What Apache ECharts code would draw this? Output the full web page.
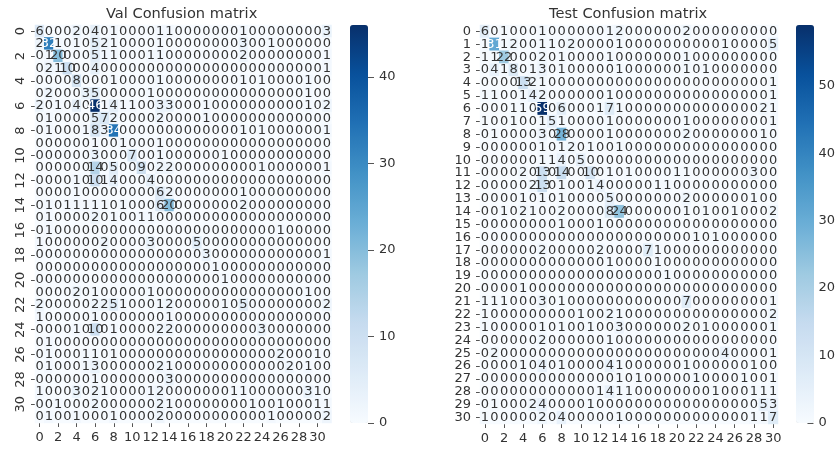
<!DOCTYPE html>
<html>
<head>
<meta charset="utf-8">
<script src="https://cdn.jsdelivr.net/npm/echarts@6/dist/echarts.min.js"></script>
<style>html,body{margin:0;padding:0;background:#fff}#c{width:838px;height:450px}</style>
</head>
<body>
<div id="c"></div>
<script>
var valTitle = 'Val Confusion matrix';
var testTitle = 'Test Confusion matrix';
var blues = ['#f7fbff','#deebf7','#c6dbef','#9ecae1','#6baed6','#4292c6','#2171b5','#08519c','#08306b'];
var valBarTicks = [0,10,20,30,40];
var testBarTicks = [0,10,20,30,40,50];
var valMatrix = [
[6,0,0,0,2,0,4,0,1,0,0,0,0,1,1,0,0,0,0,0,0,0,1,0,0,0,0,0,0,0,0,3],
[2,32,1,0,1,0,5,2,1,0,0,0,0,1,0,0,0,0,0,0,0,0,3,0,0,1,0,0,0,0,0,0],
[0,1,20,0,0,0,5,1,1,0,0,0,1,1,0,0,0,0,0,0,0,0,2,0,0,0,0,0,0,0,0,1],
[0,2,1,10,0,0,4,0,0,0,0,0,0,0,0,0,0,0,0,0,0,0,0,0,0,0,0,0,0,0,0,1],
[0,0,0,0,8,0,0,0,1,0,0,0,0,1,0,0,0,0,0,0,0,0,1,0,1,0,0,0,0,1,0,0],
[0,2,0,0,0,3,5,0,0,0,0,0,1,0,0,0,0,0,0,0,0,0,0,0,0,0,0,0,0,1,0,0],
[2,0,1,0,4,0,46,1,4,1,1,0,0,3,3,0,0,0,1,0,0,0,0,0,0,0,0,0,0,1,0,2],
[0,1,0,0,0,0,5,7,2,0,0,0,0,2,0,0,0,0,1,0,0,0,0,0,0,0,0,0,0,0,0,0],
[0,1,0,0,0,1,8,3,34,0,0,0,0,0,0,0,0,0,0,0,0,0,1,0,1,0,0,0,0,0,0,1],
[0,0,0,0,0,0,1,0,0,1,0,0,0,1,0,0,0,0,0,0,0,0,0,0,0,0,0,0,0,0,0,0],
[0,0,0,0,0,0,3,0,0,0,7,0,0,1,0,0,0,0,0,0,1,0,0,0,0,0,0,0,0,0,0,0],
[0,0,0,0,0,0,14,0,5,0,0,9,0,2,2,0,0,0,0,0,0,0,0,0,1,0,0,0,0,0,0,1],
[0,0,0,0,1,0,10,1,4,0,0,0,4,0,0,0,0,0,0,0,0,0,0,0,0,0,0,0,0,0,0,0],
[0,0,0,0,1,0,0,0,0,0,0,0,0,6,2,0,0,0,0,0,0,0,1,0,0,0,0,0,0,0,0,0],
[0,1,0,1,1,1,1,1,0,1,0,0,0,6,20,0,0,0,0,0,0,0,2,0,0,0,0,0,0,0,0,0],
[0,1,0,0,0,0,2,0,1,0,0,1,1,0,0,0,0,0,0,0,0,0,0,0,0,0,0,0,0,0,0,0],
[0,1,0,0,0,0,0,0,0,0,0,0,0,0,0,0,0,0,0,0,0,0,0,0,0,0,1,0,0,0,0,0],
[1,0,0,0,0,0,0,2,0,0,0,0,3,0,0,0,0,5,0,0,0,0,0,0,0,0,0,0,0,0,0,0],
[0,0,0,0,0,0,0,0,0,0,0,0,0,0,0,0,0,0,3,0,0,0,0,0,0,0,0,0,0,0,0,1],
[0,0,0,0,0,0,0,0,0,0,0,0,0,0,0,0,0,0,0,1,0,0,0,0,0,0,0,0,0,0,0,0],
[0,0,0,0,0,0,0,0,0,0,0,0,0,0,0,0,0,0,0,0,1,0,0,0,0,0,0,0,0,0,0,0],
[0,0,0,0,2,0,1,0,0,0,0,0,1,0,0,0,0,0,0,0,0,0,0,0,0,0,0,0,0,1,0,0],
[2,0,0,0,0,0,2,2,5,1,0,0,0,1,2,0,0,0,0,0,1,0,5,0,0,0,0,0,0,0,0,2],
[1,0,0,0,0,0,1,0,0,0,0,0,0,0,1,0,0,0,0,0,0,0,0,0,0,0,0,0,0,0,0,0],
[0,0,0,0,1,0,10,0,1,0,0,0,0,2,2,0,0,0,0,0,0,0,0,0,3,0,0,0,0,0,0,0],
[0,1,0,0,0,0,0,0,0,0,0,0,0,0,0,0,0,0,0,0,0,0,0,0,0,0,0,0,0,0,0,0],
[0,1,0,0,0,1,1,0,1,0,0,0,0,0,0,0,0,0,0,0,0,0,0,0,0,0,2,0,0,0,1,0],
[0,1,0,0,0,1,3,0,0,0,0,0,0,2,1,0,0,0,0,0,0,0,0,0,0,0,0,2,0,1,0,0],
[0,0,0,0,0,0,1,0,0,0,0,0,0,0,3,0,0,0,0,0,0,0,0,0,0,0,0,0,0,0,0,0],
[1,0,0,0,3,0,2,1,0,0,0,0,1,2,0,0,0,0,0,0,0,1,1,0,0,0,0,0,0,3,1,0],
[0,0,1,0,0,0,2,0,0,0,0,0,0,2,1,0,0,0,0,0,0,0,0,1,0,0,1,0,0,0,1,1],
[0,1,0,0,1,0,0,0,1,0,0,0,0,2,0,0,0,0,0,0,0,0,0,0,0,1,0,0,0,0,0,2]
];
var testMatrix = [
[6,0,1,0,0,0,1,0,0,0,0,0,0,1,2,0,0,0,0,0,0,2,0,0,0,0,0,0,0,0,0],
[1,31,1,2,0,0,1,1,0,2,0,0,0,0,1,0,0,0,0,0,0,0,0,0,0,1,0,0,0,0,5],
[1,1,22,0,0,0,2,0,1,0,0,0,0,1,0,0,0,0,0,0,0,1,0,0,0,0,0,0,0,0,0],
[0,4,1,8,0,1,3,0,1,0,0,0,0,0,1,0,0,0,0,0,0,1,0,1,0,0,0,0,0,0,0],
[0,0,0,0,13,2,1,0,0,0,0,0,0,0,0,0,0,0,0,0,0,0,0,0,0,0,0,0,0,0,1],
[1,1,0,0,1,4,2,0,0,0,0,0,0,1,0,0,0,0,0,0,0,0,0,0,0,0,0,0,0,0,1],
[0,0,0,1,1,0,59,0,6,0,0,0,1,7,1,0,0,0,0,0,0,0,0,0,0,0,0,0,0,2,1],
[1,0,0,1,0,0,1,5,1,0,0,0,0,1,0,0,0,0,0,0,0,1,0,0,0,0,0,0,0,0,1],
[0,1,0,0,0,0,3,0,28,0,0,0,0,1,0,0,0,0,0,0,0,2,0,0,0,0,0,0,0,1,0],
[0,0,0,0,0,0,1,0,1,2,0,1,0,0,1,0,0,0,0,0,0,0,0,0,0,0,0,0,0,0,0],
[0,0,0,0,0,0,1,1,4,0,5,0,0,0,0,0,0,0,0,0,0,0,0,0,0,0,0,0,0,0,0],
[0,0,0,0,2,0,13,0,14,0,0,10,0,1,0,1,0,0,0,0,1,1,0,0,0,0,0,0,3,0,0],
[0,0,0,0,0,2,13,0,1,0,0,1,4,0,0,0,0,0,1,1,0,0,0,0,0,0,0,0,0,0,0],
[0,0,0,0,1,0,1,0,1,0,0,0,0,5,0,0,0,0,0,0,0,2,0,0,0,0,0,0,1,0,0],
[0,0,1,0,2,1,0,0,2,0,0,0,0,8,24,0,0,0,0,0,0,1,0,1,0,0,1,0,0,0,2],
[0,0,0,0,0,0,0,0,1,0,0,0,1,0,0,0,0,0,0,0,0,0,0,0,0,0,0,0,0,0,0],
[0,0,0,0,0,0,0,0,0,0,0,0,0,0,0,0,0,0,0,0,0,0,1,0,1,0,0,0,0,0,0],
[0,0,0,0,0,0,2,0,0,0,0,0,2,0,0,0,0,7,1,0,0,0,0,0,0,0,0,0,0,0,0],
[0,0,0,0,0,0,0,0,0,0,0,0,0,1,0,0,0,0,1,0,0,0,0,0,0,0,0,0,0,0,0],
[0,0,0,0,0,0,0,0,0,0,0,0,0,0,0,0,0,0,0,1,0,0,0,0,0,0,0,0,0,0,0],
[0,0,0,0,1,0,0,0,0,0,0,0,0,0,0,0,0,0,0,0,0,0,0,0,0,0,0,0,0,0,0],
[1,1,1,0,0,0,3,0,1,0,0,0,0,0,0,0,0,0,0,0,0,7,0,0,0,0,0,0,0,0,1],
[1,0,0,0,0,0,0,0,0,0,1,0,0,2,1,0,0,0,0,0,0,0,0,0,0,0,0,0,0,0,2],
[1,0,0,0,0,0,1,0,1,0,0,1,0,0,3,0,0,0,0,0,0,2,0,1,0,0,0,0,0,0,1],
[0,0,0,0,0,0,2,0,0,0,0,0,0,1,0,0,0,0,0,0,0,0,0,0,0,0,0,0,0,0,0],
[0,2,0,0,0,0,0,0,0,0,0,0,0,0,0,0,0,0,0,0,0,0,0,0,0,4,0,0,0,0,1],
[0,0,0,0,1,0,4,0,1,0,0,0,0,4,1,0,0,0,0,0,0,1,0,0,0,0,0,0,1,0,0],
[0,0,0,0,0,0,0,0,0,0,0,0,0,0,1,0,1,0,0,0,0,0,1,0,0,0,0,1,0,0,1],
[0,0,0,0,0,0,0,0,0,0,0,0,1,4,1,1,0,0,0,0,0,0,0,0,1,0,0,0,1,1,1],
[0,1,0,0,0,2,4,0,0,0,0,1,0,0,0,0,0,0,0,0,0,0,0,0,0,0,0,0,0,5,3],
[1,0,0,0,0,0,2,0,4,0,0,0,0,0,1,0,0,0,0,0,0,0,0,0,0,0,0,0,1,1,7]
];

var INK = '#333333', FONT = '"DejaVu Sans", sans-serif';

function cells(matrix, top) {
  var out = [];
  matrix.forEach(function (row, y) {
    row.forEach(function (v, x) {
      out.push({ value: [x, y, v], label: { color: v / top > 0.5 ? '#ffffff' : INK } });
    });
  });
  return out;
}
function maxOf(matrix) { return Math.max.apply(null, matrix.map(function (r) { return Math.max.apply(null, r); })); }
function names(matrix) { return matrix.map(function (_, i) { return String(i); }); }

var valTop = maxOf(valMatrix), testTop = maxOf(testMatrix);
var axisLabel = { color: INK, fontFamily: FONT, fontSize: 13 };
var tick = { show: true, length: 4, lineStyle: { color: '#555', width: 1 } };

function catX(idx, matrix, step) {
  return { type: 'category', gridIndex: idx, data: names(matrix), position: 'bottom',
    axisLine: { show: false }, splitLine: { show: false }, splitArea: { show: false },
    axisTick: Object.assign({ alignWithLabel: true, interval: step }, tick),
    axisLabel: Object.assign({ interval: step, margin: 8 }, axisLabel) };
}
function catY(idx, matrix, step, rotate, margin) {
  return { type: 'category', gridIndex: idx, data: names(matrix), inverse: true, position: 'left',
    axisLine: { show: false }, splitLine: { show: false }, splitArea: { show: false },
    axisTick: Object.assign({ alignWithLabel: true, interval: step }, tick),
    axisLabel: Object.assign({ interval: step, margin: margin, rotate: rotate }, axisLabel) };
}
function barX(idx) { return { type: 'value', gridIndex: idx, show: false, min: 0, max: 1 }; }
function barY(idx, top, ticks) {
  return { type: 'value', gridIndex: idx, min: 0, max: top, position: 'right',
    interval: 10, splitLine: { show: false },
    axisLine: { show: false, onZero: false },
    axisTick: { show: true, length: 6, customValues: ticks, lineStyle: { color: '#555', width: 1 } },
    axisLabel: Object.assign({ margin: 11 }, axisLabel, { customValues: ticks }) };
}
function heat(idx, matrix, top) {
  return { type: 'heatmap', xAxisIndex: idx, yAxisIndex: idx, data: cells(matrix, top),
    progressive: 0, animation: false, emphasis: { disabled: true },
    label: { show: true, fontFamily: FONT, fontSize: 13, formatter: function (p) { return p.value[2]; } } };
}
function bar(seriesIndex, top, left) {
  return { type: 'continuous', seriesIndex: seriesIndex, dimension: 2, min: 0, max: top,
    left: left, top: 25, itemWidth: 18, itemHeight: 398, padding: 0, calculable: false,
    hoverLink: false, text: null, inRange: { color: blues } };
}
var titleStyle = { color: INK, fontFamily: FONT, fontSize: 14.6, fontWeight: 'normal' };

var option = {
  animation: false,
  backgroundColor: '#ffffff',
  title: [
    { text: valTitle, left: 101, top: 2, textStyle: titleStyle },
    { text: testTitle, left: 544, top: 2, textStyle: titleStyle }
  ],
  grid: [
    { left: 35, top: 25, width: 296.5, height: 398 },
    { left: 480, top: 25, width: 298, height: 399 },
    { left: 350, top: 25, width: 18, height: 398 },
    { left: 796, top: 25, width: 18, height: 398 }
  ],
  xAxis: [catX(0, valMatrix, 1), catX(1, testMatrix, 1), barX(2), barX(3)],
  yAxis: [catY(0, valMatrix, 1, 90, 8), catY(1, testMatrix, 0, 0, 9), barY(2, valTop, valBarTicks), barY(3, testTop, testBarTicks)],
  visualMap: [bar(0, valTop, 350), bar(1, testTop, 796)],
  series: [heat(0, valMatrix, valTop), heat(1, testMatrix, testTop)]
};
echarts.init(document.getElementById('c'), null, { renderer: 'canvas' }).setOption(option);
</script>
</body>
</html>
